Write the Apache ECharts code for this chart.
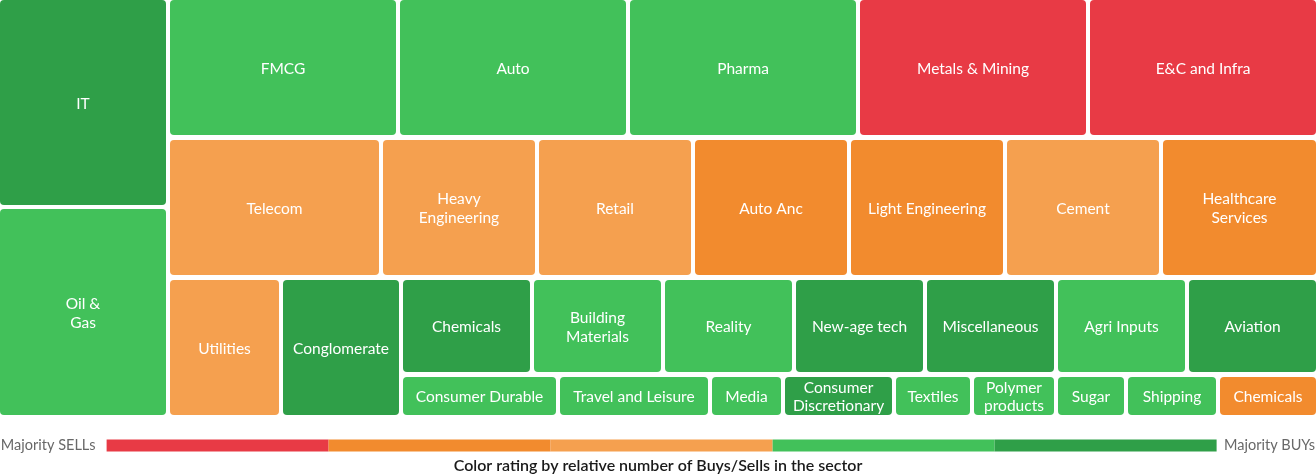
<!DOCTYPE html>
<html>
<head>
<meta charset="utf-8">
<script src="https://cdn.jsdelivr.net/npm/echarts@6/dist/echarts.min.js"></script>
<style>
  html, body { margin: 0; padding: 0; background: #ffffff; }
  #chart { width: 1316px; height: 476px; }
</style>
</head>
<body>
<div id="chart"></div>
<script>
// Rating scale: 0 = majority SELLs ... 4 = majority BUYs
const ratingColors = ['#E83A45', '#F28B2E', '#F5A04F', '#42C15A', '#2F9F48'];

const leftNames = ['IT', 'Oil &\nGas'];
const leftValues = [209, 210];
const leftRatings = [4, 3];

const row1Names = ['FMCG', 'Auto', 'Pharma', 'Metals & Mining', 'E&C and Infra'];
const row1Values = [230, 230, 230, 230, 230];
const row1Ratings = [3, 3, 3, 0, 0];

const row2Names = ['Telecom', 'Heavy\nEngineering', 'Retail', 'Auto Anc', 'Light Engineering', 'Cement', 'Healthcare\nServices'];
const row2Values = [213, 156, 156, 156, 156, 156, 157];
const row2Ratings = [2, 2, 2, 1, 1, 2, 1];

const row3aNames = ['Utilities', 'Conglomerate'];
const row3aValues = [113, 120];
const row3aRatings = [2, 4];

const row3bNames = ['Chemicals', 'Building\nMaterials', 'Reality', 'New-age tech', 'Miscellaneous', 'Agri Inputs', 'Aviation'];
const row3bValues = [131, 131, 131, 131, 131, 131, 131];
const row3bRatings = [4, 3, 3, 4, 4, 3, 4];

const row3cNames = ['Consumer Durable', 'Travel and Leisure', 'Media', 'Consumer\nDiscretionary', 'Textiles', 'Polymer\nproducts', 'Sugar', 'Shipping', 'Chemicals'];
const row3cValues = [157, 152, 73, 111, 78, 84, 70, 92, 100];
const row3cRatings = [3, 3, 3, 4, 3, 3, 3, 3, 1];

const legendLabels = ['Majority BUYs', 'Majority SELLs'];
const captionText = 'Color rating by relative number of Buys/Sells in the sector';

const FONT = 'Lato';

function makeSeries(names, values, ratings, box, lineHeight, dy) {
  return Object.assign({
    type: 'treemap',
    roam: false,
    nodeClick: false,
    sort: false,
    squareRatio: 0.5 * (1 + Math.sqrt(5)),
    breadcrumb: { show: false },
    itemStyle: { gapWidth: 4, borderWidth: 0, borderRadius: 4 },
    label: {
      show: true,
      position: 'inside',
      color: '#ffffff',
      fontFamily: FONT,
      fontSize: 15.5,
      lineHeight: lineHeight,
      padding: 0,
      offset: [0, dy],
      overflow: 'none',
      lineOverflow: 'none',
      formatter: '{b}'
    },
    emphasis: { disabled: true },
    data: names.map((n, i) => ({
      name: n,
      value: values[i],
      itemStyle: { color: ratingColors[ratings[i]] }
    }))
  }, box);
}

const chart = echarts.init(document.getElementById('chart'), null, { renderer: 'canvas' });

chart.setOption({
  animation: false,
  textStyle: { fontFamily: FONT },
  title: {
    text: captionText,
    left: 'center',
    top: 458,
    padding: 0,
    textStyle: { fontFamily: FONT, fontSize: 16, fontWeight: 600, color: '#1a1a1a' }
  },
  visualMap: {
    type: 'piecewise',
    orient: 'horizontal',
    left: 'center',
    top: 423,
    seriesIndex: [],
    selectedMode: false,
    showLabel: false,
    itemSymbol: 'rect',
    itemWidth: 222,
    itemHeight: 12,
    itemGap: 0,
    text: ['\u00a0\u00a0' + legendLabels[0], legendLabels[1] + '\u00a0\u00a0\u00a0'],
    textStyle: { fontFamily: FONT, fontSize: 14.5, color: '#686868' },
    pieces: ratingColors.map((c, i) => ({ value: i, color: c }))
  },
  series: [
    makeSeries(leftNames, leftValues, leftRatings, { left: 0, top: 0, width: 166, height: 415 }, 19, 1),
    makeSeries(row1Names, row1Values, row1Ratings, { left: 170, top: 0, width: 1146, height: 135 }, 19, 1),
    makeSeries(row2Names, row2Values, row2Ratings, { left: 170, top: 140, width: 1146, height: 135 }, 19, 1),
    makeSeries(row3aNames, row3aValues, row3aRatings, { left: 170, top: 280, width: 229, height: 135 }, 19, 1),
    makeSeries(row3bNames, row3bValues, row3bRatings, { left: 403, top: 280, width: 913, height: 92 }, 19, 1),
    makeSeries(row3cNames, row3cValues, row3cRatings, { left: 403, top: 377, width: 913, height: 38 }, 18, 1)
  ]
});
</script>
</body>
</html>
